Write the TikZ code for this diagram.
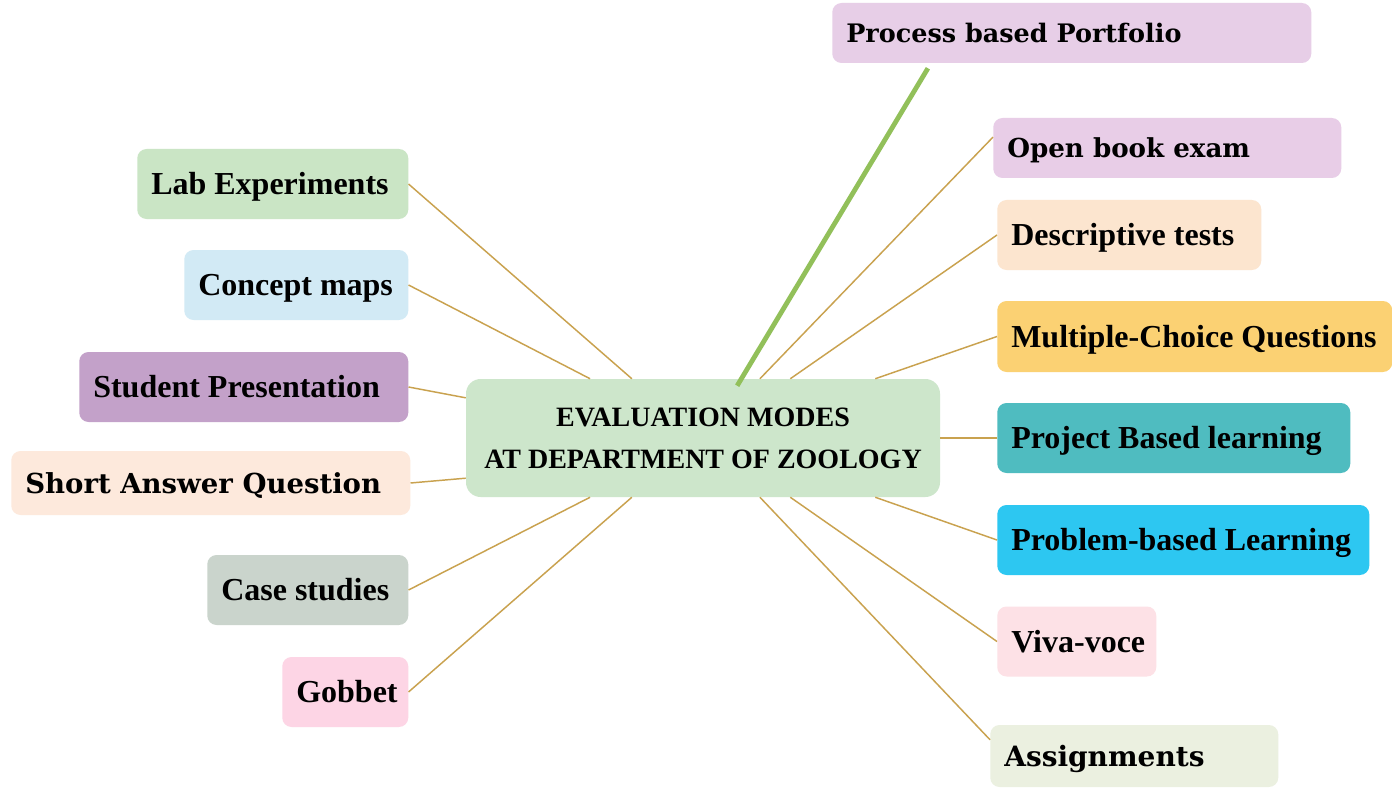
\documentclass[tikz,border=0pt]{standalone}
\usepackage{fontspec}
\setmainfont{Liberation Serif}
\newfontfamily\rockfont{DejaVu Serif}
\usetikzlibrary{calc}
\definecolor{cpbp}{HTML}{E7CEE7}
\definecolor{cobe}{HTML}{E8CDE7}
\definecolor{cdt}{HTML}{FCE5CF}
\definecolor{cmcq}{HTML}{FBD173}
\definecolor{cpjbl}{HTML}{4FBCC0}
\definecolor{cprbl}{HTML}{2DC7F1}
\definecolor{cviva}{HTML}{FDE1E6}
\definecolor{casg}{HTML}{EBF0E0}
\definecolor{clab}{HTML}{CAE5C5}
\definecolor{ccm}{HTML}{D2EAF5}
\definecolor{csp}{HTML}{C3A1C9}
\definecolor{csaq}{HTML}{FDE9DC}
\definecolor{ccs}{HTML}{CAD4CC}
\definecolor{cgob}{HTML}{FDD5E5}
\definecolor{ccenter}{HTML}{CDE6CB}
\definecolor{linkc}{HTML}{C9A24F}
\definecolor{greenl}{HTML}{92C05A}
\newcommand{\lb}[2]{\makebox[#1][l]{#2}}
\begin{document}
\begin{tikzpicture}[x=0.75pt,y=-0.75pt,
  box/.style={rectangle, rounded corners=7pt, inner xsep=10.5pt, inner ysep=0pt,
    anchor=west, font=\bfseries\fontsize{24pt}{28pt}\selectfont,
    text height=16pt, text depth=0pt},
  rk/.style 2 args={font=\rockfont\bfseries\fontsize{#1}{#1}\selectfont, text height=#2},
  link/.style={draw=linkc, line width=1.1pt},
  centerbox/.style={rectangle, rounded corners=11pt, fill=ccenter, align=center,
    minimum width=355.5pt, minimum height=88.5pt, inner sep=0pt,
    font=\bfseries\fontsize{21pt}{31.5pt}\selectfont}]
\useasboundingbox[fill=white] (0,0) rectangle (1392,788);

\node[centerbox] (c) at (703,438) {EVALUATION MODES\\AT DEPARTMENT OF ZOOLOGY};

% right side
\node[box, rk={19.1pt}{13.9pt}, fill=cpbp, minimum height=45pt] (pbp) at (832,33) {\lb{338.25pt}{Process based Portfolio}};
\node[box, rk={19.6pt}{14.3pt}, fill=cobe, minimum height=45pt] (obe) at (993,148) {\lb{240pt}{Open book exam}};
\node[box, fill=cdt, minimum height=52.5pt] (dt) at (997,235) {\lb{177pt}{Descriptive tests}};
\node[box, fill=cmcq, minimum height=53.25pt] (mcq) at (997,336.5) {\lb{275.25pt}{Multiple-Choice Questions}};
\node[box, fill=cpjbl, minimum height=52.5pt] (pjbl) at (997,438) {\lb{243.75pt}{Project Based learning}};
\node[box, fill=cprbl, minimum height=52.5pt] (prbl) at (997,540) {\lb{258pt}{Problem-based Learning}};
\node[box, fill=cviva, minimum height=52.5pt] (viva) at (997,641.5) {\lb{98.25pt}{Viva-voce}};
\node[box, rk={21pt}{15.3pt}, fill=casg, minimum height=46.5pt] (asg) at (990,756) {\lb{195pt}{Assignments}};

% left side
\node[box, fill=clab, minimum height=52.5pt] (lab) at (137,184) {\lb{182.25pt}{Lab Experiments}};
\node[box, fill=ccm, minimum height=52.5pt] (cm) at (184,285) {\lb{147pt}{Concept maps}};
\node[box, fill=csp, minimum height=52.5pt] (sp) at (79,387) {\lb{225.75pt}{Student Presentation}};
\node[box, rk={20.65pt}{15.1pt}, fill=csaq, minimum height=48pt] (saq) at (11,483) {\lb{278.25pt}{Short Answer Question}};
\node[box, fill=ccs, minimum height=52.5pt] (cs) at (207,590) {\lb{129.75pt}{Case studies}};
\node[box, fill=cgob, minimum height=52.5pt] (gob) at (282,692) {\lb{73.5pt}{Gobbet}};

% connectors
\draw[link] (lab.east) -- ($(c.north west)!0.350!(c.north east)$);
\draw[link] (cm.east) -- ($(c.north west)!0.262!(c.north east)$);
\draw[link] (sp.east) -- ($(c.north west)!0.161!(c.south west)$);
\draw[link] (saq.east) -- ($(c.north west)!0.839!(c.south west)$);
\draw[link] (cs.east) -- ($(c.south west)!0.262!(c.south east)$);
\draw[link] (gob.east) -- ($(c.south west)!0.350!(c.south east)$);
\draw[link] ($(obe.north west)!0.32!(obe.south west)$) -- ($(c.north west)!0.620!(c.north east)$);
\draw[link] (dt.west) -- ($(c.north west)!0.684!(c.north east)$);
\draw[link] (mcq.west) -- ($(c.north west)!0.863!(c.north east)$);
\draw[link] (pjbl.west) -- (c.east);
\draw[link] (prbl.west) -- ($(c.south west)!0.863!(c.south east)$);
\draw[link] (viva.west) -- ($(c.south west)!0.684!(c.south east)$);
\draw[link] ($(asg.north west)!0.24!(asg.south west)$) -- ($(c.south west)!0.620!(c.south east)$);
\draw[draw=greenl, line width=3.6pt] ($($(pbp.south west)!0.2!(pbp.south east)$)+(0,5)$) -- ($($(c.north west)!0.572!(c.north east)$)+(0,7)$);
\end{tikzpicture}
\end{document}
